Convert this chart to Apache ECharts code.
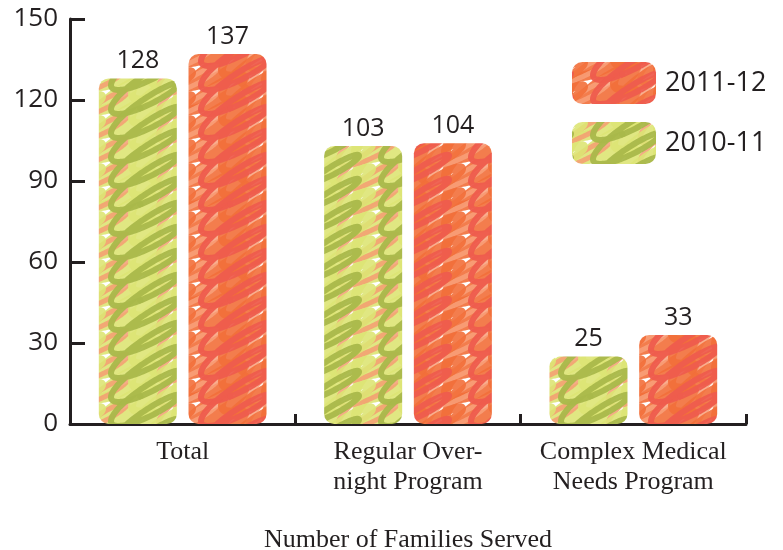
<!DOCTYPE html>
<html><head><meta charset="utf-8">
<script src="https://cdn.jsdelivr.net/npm/echarts@6/dist/echarts.min.js"></script>
<style>html,body{margin:0;padding:0;background:#fff}#c{width:783px;height:550px}</style>
</head><body><div id="c"></div>
<script>
const categories = ['Total', 'Regular Over-\nnight Program', 'Complex Medical\nNeeds Program'];
const series2010 = [128, 103, 25];
const series2011 = [137, 104, 33];
const seriesNames = ['2010-11', '2011-12'];
const yTicks = [0, 30, 60, 90, 120, 150];

function makeTile(colors) {
  const w = 90, h = 96;
  const c = document.createElement('canvas');
  c.width = w; c.height = h;
  const ctx = c.getContext('2d');
  ctx.fillStyle = '#ffffff';
  ctx.fillRect(0, 0, w, h);
  ctx.lineCap = 'round';
  ctx.lineJoin = 'round';
  // [colourIndex, lineWidth, xCentre, phase, radiusX, radiusY, loops, alpha]
  const specs = [
    [0, 10, 30, 0.3, 34, 13, 4, 0.9],
    [2, 5, 8, 3.1, 30, 10, 4, 0.85],
    [0, 8, 72, 4.5, 30, 11, 4, 0.9],
    [1, 6, 55, 1.7, 34, 10, 4, 0.95]
  ];
  for (const sp of specs) {
    const [ci, lw, xc, ph, rx, ry, n, al] = sp;
    ctx.strokeStyle = colors[ci];
    ctx.lineWidth = lw;
    ctx.globalAlpha = al;
    for (let ox = -w; ox <= w; ox += w) {
      for (let oy = -h; oy <= h; oy += h) {
        ctx.beginPath();
        for (let i = 0; i <= 400; i++) {
          const t = i / 400;
          const by = h - h * t;
          const a = 2 * Math.PI * n * t + ph;
          const lx = rx * Math.cos(a);
          const ly = ry * Math.sin(a);
          const x = xc + lx + ox;
          const y = by - lx * 0.55 + ly + oy;
          if (i === 0) ctx.moveTo(x, y); else ctx.lineTo(x, y);
        }
        ctx.stroke();
      }
    }
  }
  return c;
}

const greenTile = makeTile(['#dde474', '#a9b84a', '#f59c72']);
const orangeTile = makeTile(['#f26f3a', '#ee5c4d', '#f8a07a']);

const ink = '#231f20';
const sans = '"Open Sans", sans-serif';
const serif = '"Liberation Serif", serif';

const chart = echarts.init(document.getElementById('c'), null, {renderer: 'canvas'});
chart.setOption({
  animation: false,
  backgroundColor: '#ffffff',
  grid: {left: 70, right: 37, top: 19, bottom: 126, containLabel: false, outerBoundsMode: 'none'},
  legend: {
    orient: 'vertical', left: 567, top: 57,
    itemWidth: 84, itemHeight: 42, itemGap: 18,
    data: ['2011-12', '2010-11'],
    textStyle: {fontFamily: sans, fontSize: 27, color: ink, padding: [0, 0, 0, 4]},
    icon: 'roundRect'
  },
  xAxis: {
    type: 'category', data: categories,
    name: 'Number of Families Served', nameLocation: 'middle', nameGap: 103,
    nameTextStyle: {fontFamily: serif, fontSize: 26, color: ink},
    axisLine: {lineStyle: {color: ink, width: 3}},
    axisTick: {show: true, inside: true, length: 10, lineStyle: {color: ink, width: 3}},
    axisLabel: {fontFamily: serif, fontSize: 26, color: ink, lineHeight: 30, margin: 13, interval: 0}
  },
  yAxis: {
    type: 'value', min: 0, max: 150, interval: 30,
    axisLine: {show: true, lineStyle: {color: ink, width: 3}},
    axisTick: {show: true, inside: true, length: 15, lineStyle: {color: ink, width: 3}},
    splitLine: {show: false},
    axisLabel: {fontFamily: sans, fontSize: 26, color: ink, margin: 12,
      formatter: v => yTicks.includes(v) ? String(v) : ''}
  },
  series: [
    {
      name: seriesNames[0], type: 'bar', data: series2010,
      barWidth: 78, barGap: '15%',
      itemStyle: {color: {image: greenTile, repeat: 'repeat'}, borderRadius: 10},
      label: {show: true, position: 'top', distance: 5, fontFamily: sans, fontSize: 25, color: ink}
    },
    {
      name: seriesNames[1], type: 'bar', data: series2011,
      barWidth: 78,
      itemStyle: {color: {image: orangeTile, repeat: 'repeat'}, borderRadius: 10},
      label: {show: true, position: 'top', distance: 5, fontFamily: sans, fontSize: 25, color: ink}
    }
  ]
});
</script></body></html>
